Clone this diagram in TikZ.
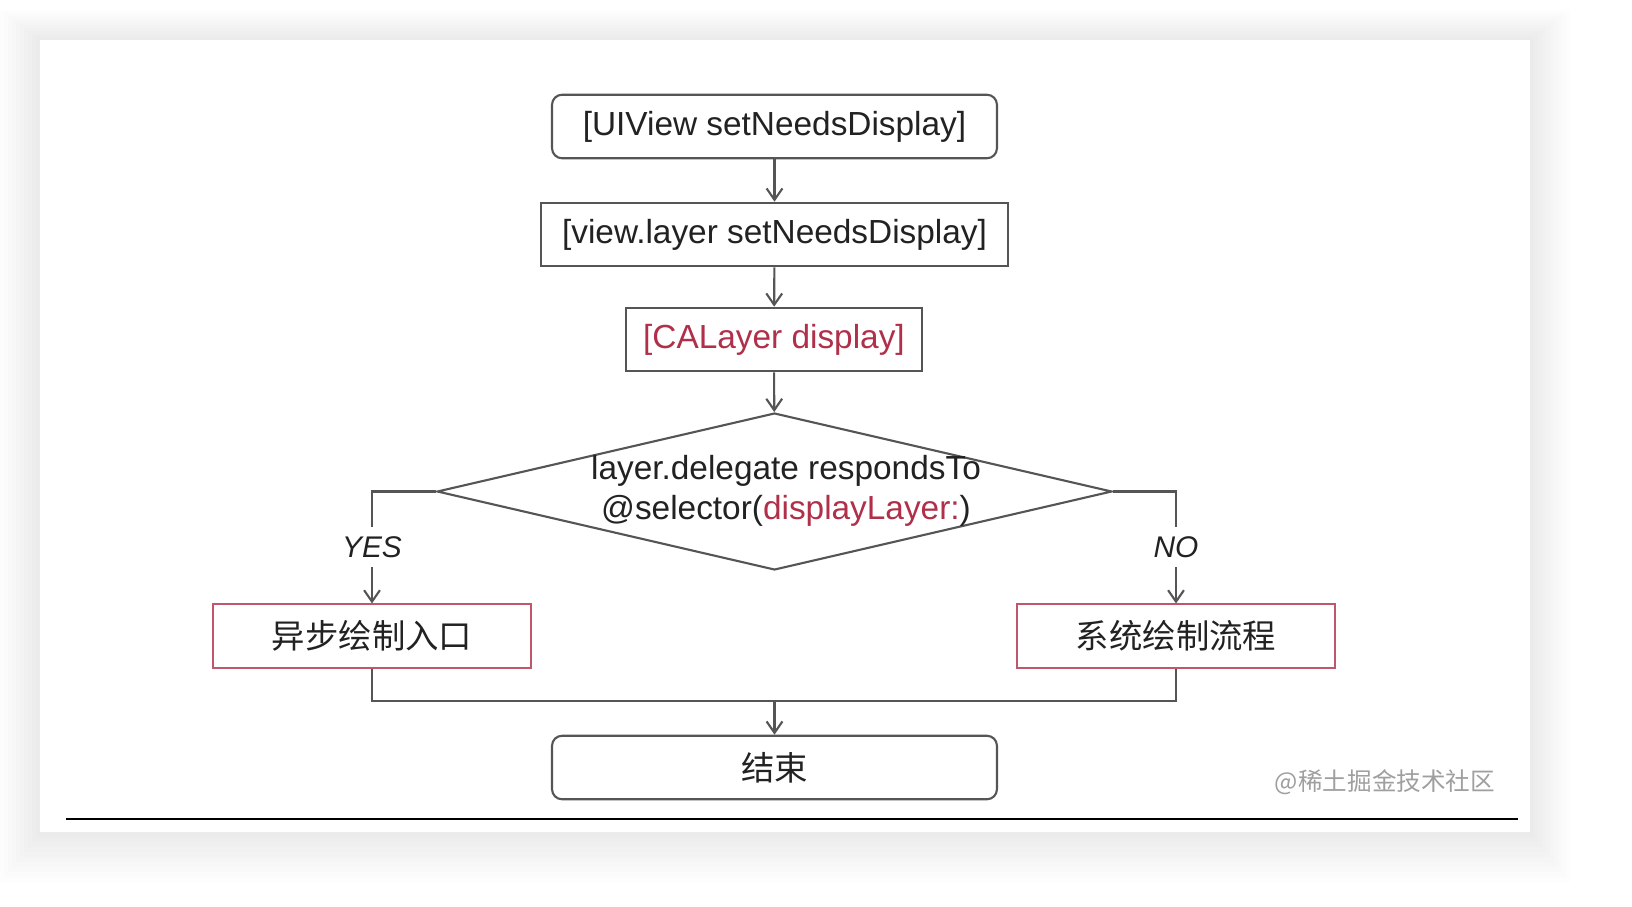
\documentclass[tikz,border=0pt]{standalone}
\usepackage{fontspec}
\setmainfont{Liberation Sans}
\newfontfamily\cjk{Noto Sans CJK SC}
\usetikzlibrary{shapes.geometric,arrows.meta}
\definecolor{txt}{HTML}{222222}
\definecolor{linegray}{HTML}{555555}
\definecolor{calred}{HTML}{B0304A}
\definecolor{boxred}{HTML}{C0566C}

\begin{document}
\begin{tikzpicture}[x=0.02cm,y=-0.02cm,line width=1.2pt,
  >={Straight Barb[length=6.5pt,width=9pt]},
  box/.style={draw=linegray,minimum width=8.9cm,minimum height=1.27cm,inner sep=0pt,text=txt,font=\fontsize{19}{23}\selectfont},
  roundbox/.style={box,rounded corners=0.2cm},
  redbox/.style={box,draw=boxred,line width=0.9pt,minimum width=6.36cm,font=\cjk\fontsize{19}{23}\selectfont},
  branch/.style={inner sep=0pt,minimum height=0.76cm,text=txt,font=\itshape\fontsize{17}{20}\selectfont},
  arr/.style={->,draw=linegray}]
  \useasboundingbox (0,0) rectangle (1632,906);
  % card and its shadow
  \foreach \i in {1,...,10}
    \fill[black,opacity=0.009] (40-4*\i,40-3*\i) rectangle (1530+4*\i,832+5*\i);
  \fill[white] (40,40) rectangle (1530,832);
  \draw[line width=1.2pt] (66,819)--(1518,819);

  \node[roundbox] (view) at (774.5,126.5) {[UIView setNeedsDisplay]};
  \node[box,minimum width=9.34cm] (layer) at (774.5,234.5) {[view.layer setNeedsDisplay]};
  \node[box,minimum width=5.92cm,text=calred] (display) at (774,339.5) {[CALayer display]};
  \node[diamond,draw=linegray,minimum width=13.5cm,minimum height=3.14cm,inner sep=0pt] (cond) at (774.5,491.5) {};
  \node[align=center,text=txt,font=\fontsize{19}{23}\selectfont,inner sep=0pt] (condtext) at (786,491)
    {layer.delegate respondsTo\\[0pt]@selector(\textcolor{calred}{displayLayer:})};
  \node[branch] (yes) at (372,547) {YES};
  \node[branch] (no) at (1176,547) {NO};
  \node[redbox] (async) at (372,636) {异步绘制入口};
  \node[redbox] (sys) at (1176,636) {系统绘制流程};
  \node[roundbox,font=\cjk\fontsize{19}{23}\selectfont] (end) at (774.5,767.5) {结束};
  \coordinate (merge) at (774.5,701);

  \draw[arr] (view) -- (layer);
  \draw[arr] (layer) -- (display);
  \draw[arr] (display) -- (cond);
  \draw[linegray] (cond.west) -| (yes.north);
  \draw[linegray] (cond.east) -| (no.north);
  \draw[arr] (yes) -- (async);
  \draw[arr] (no) -- (sys);
  \draw[linegray] (async.south) |- (merge) -| (sys.south);
  \draw[arr] (merge) -- (end);

  \node[text=gray!75,font=\cjk\fontsize{14}{16}\selectfont] (mark) at (1385,782) {@稀土掘金技术社区};
\end{tikzpicture}
\end{document}
